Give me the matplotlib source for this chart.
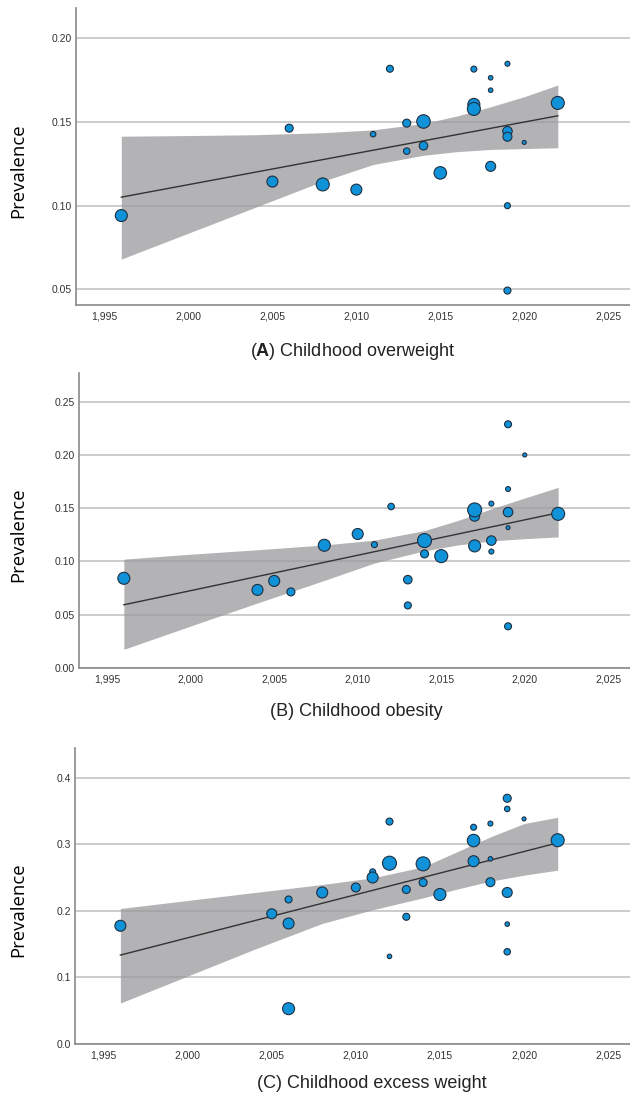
import numpy as np
import matplotlib
matplotlib.use("Agg")
import matplotlib.pyplot as plt

# (A) childhood overweight
a_year = [1996, 2005, 2006, 2008, 2010, 2011, 2012, 2013, 2013, 2014, 2014, 2015,
          2017, 2017, 2017, 2018, 2018, 2018, 2019, 2019, 2019, 2019, 2019, 2020, 2022]
a_prev = [0.094, 0.1143, 0.1462, 0.1126, 0.1095, 0.1426, 0.1817, 0.1492, 0.1325, 0.1502, 0.1357, 0.1195,
          0.1815, 0.1604, 0.1577, 0.1763, 0.1689, 0.1234, 0.1847, 0.1444, 0.1411, 0.0999, 0.0492, 0.1377, 0.1613]
a_size = [12, 11, 8, 13, 11, 5.5, 7, 8, 6.5, 13.5, 8.5, 12.5,
          6, 12, 13, 4.5, 4.5, 10, 5, 9.5, 9, 6, 7, 4, 13]

# (B) childhood obesity
b_year = [1996, 2004, 2005, 2006, 2008, 2010, 2011, 2012, 2013, 2013, 2014, 2014, 2015,
          2017, 2017, 2017, 2018, 2018, 2018, 2019, 2019, 2019, 2019, 2019, 2020, 2022]
b_prev = [0.0842, 0.0733, 0.0817, 0.0714, 0.1152, 0.1258, 0.1158, 0.1516, 0.0829, 0.0587, 0.1196, 0.1071, 0.105,
          0.1425, 0.1484, 0.1146, 0.1543, 0.1196, 0.1093, 0.2288, 0.168, 0.1463, 0.1317, 0.0391, 0.200, 0.1447]
b_size = [12, 11, 11, 8, 12, 11, 6, 6.5, 8.5, 7, 14, 8, 13,
          10, 14, 12, 5, 9.5, 5, 7, 5, 9.5, 4, 7, 4, 13]

# (C) childhood excess weight
c_year = [1996, 2005, 2006, 2006, 2006, 2008, 2010, 2011, 2011, 2012, 2012, 2012, 2013, 2013,
          2014, 2014, 2015, 2017, 2017, 2017, 2018, 2018, 2018, 2019, 2019, 2019, 2019, 2019, 2020, 2022]
c_prev = [0.1775, 0.1955, 0.217, 0.181, 0.053, 0.2275, 0.235, 0.2585, 0.250, 0.2715, 0.334, 0.1315, 0.232, 0.191,
          0.2705, 0.2425, 0.2245, 0.3255, 0.3055, 0.2745, 0.331, 0.278, 0.243, 0.369, 0.353, 0.2275, 0.180, 0.1385, 0.338, 0.306]
c_size = [11, 10, 7, 11, 12, 11, 9, 6, 11, 14, 7, 4.5, 8, 7,
          14, 8, 12, 6, 12.5, 11, 5, 4.5, 9, 8, 5.5, 10, 4.5, 6.5, 4, 13]

# fit line ends and confidence band
fit_years = [1996, 2022]
a_fit = [0.105, 0.1536]
b_fit = [0.0593, 0.1457]
c_fit = [0.1335, 0.302]

band_years = [1996, 2000, 2004, 2008, 2011, 2014, 2016, 2018, 2020, 2022]
a_hi = [0.1414, 0.1418, 0.1423, 0.1435, 0.1452, 0.1490, 0.1535, 0.1590, 0.1650, 0.1720]
a_lo = [0.068, 0.0835, 0.099, 0.1145, 0.1245, 0.130, 0.1322, 0.1335, 0.134, 0.1345]
b_hi = [0.1022, 0.1068, 0.111, 0.1155, 0.1200, 0.129, 0.1385, 0.1494, 0.1596, 0.1696]
b_lo = [0.0175, 0.0394, 0.061, 0.0822, 0.0985, 0.1100, 0.1155, 0.1193, 0.1214, 0.123]
c_hi = [0.2035, 0.2155, 0.2275, 0.2395, 0.2495, 0.266, 0.2885, 0.311, 0.331, 0.3405]
c_lo = [0.0615, 0.102, 0.1425, 0.181, 0.2015, 0.2195, 0.2325, 0.2445, 0.2535, 0.261]

x_ticks = [1995, 2000, 2005, 2010, 2015, 2020, 2025]
a_yticks = [0.05, 0.10, 0.15, 0.20]
b_yticks = [0.00, 0.05, 0.10, 0.15, 0.20, 0.25]
c_yticks = [0.0, 0.1, 0.2, 0.3, 0.4]

plt.rcParams["font.family"] = ["Liberation Sans", "DejaVu Sans"]
plt.rcParams["mathtext.fontset"] = "custom"
plt.rcParams["mathtext.rm"] = "Liberation Sans"
plt.rcParams["mathtext.bf"] = "Liberation Sans:bold"

W, H = 630, 1095


def draw_panel(ax, years, prev, size, fit, lo, hi, yticks, ylim, yfmt):
    ax.set_xlim(1993.3, 2026.3)
    ax.set_ylim(*ylim)
    for t in yticks:
        ax.axhline(t, color="#c8c8c8", lw=1.3, zorder=0)
    ax.fill_between(band_years, lo, hi, color="#9a9a9c", alpha=0.75, lw=0, zorder=1)
    ax.plot(fit_years, fit, color="#333333", lw=1.0, zorder=2)
    ax.scatter(years, prev, s=(np.array(size) * 0.72) ** 2, c="#1092d8",
               edgecolors="#1d2f42", linewidths=0.8, zorder=3)

    ax.set_xticks(x_ticks)
    ax.set_xticklabels([f"{t:,}" for t in x_ticks])
    ax.set_yticks(yticks)
    ax.set_yticklabels([yfmt.format(t) for t in yticks])
    ax.tick_params(length=0, labelsize=7.5, labelcolor="#333333", pad=5)
    ax.tick_params(axis="y", pad=3)
    for s in ["top", "right"]:
        ax.spines[s].set_visible(False)
    for s in ["left", "bottom"]:
        ax.spines[s].set_color("#8a8a8a")
        ax.spines[s].set_linewidth(1.2)

    # y label sits at a fixed x in the figure, a bit below the axes middle
    ax.set_ylabel("Prevalence", family="Open Sans", fontsize=13.3)
    ax.yaxis.label.set_va("center")
    bb = ax.get_position()
    lx = (18 / W - bb.x0) / bb.width
    ly = 0.5 - 14 / (bb.height * H)
    ax.yaxis.set_label_coords(lx, ly)


fig = plt.figure(figsize=(6.3, 10.95), dpi=100)

ax_a = fig.add_axes([0.1206, 0.7215, 0.8794, 0.2712])
ax_b = fig.add_axes([0.125, 0.390, 0.875, 0.2694])
ax_c = fig.add_axes([0.119, 0.0466, 0.881, 0.2703])

draw_panel(ax_a, a_year, a_prev, a_size, a_fit, a_lo, a_hi, a_yticks, (0.0406, 0.218), "{:.2f}")
draw_panel(ax_b, b_year, b_prev, b_size, b_fit, b_lo, b_hi, b_yticks, (0.0, 0.277), "{:.2f}")
draw_panel(ax_c, c_year, c_prev, c_size, c_fit, c_lo, c_hi, c_yticks, (0.0, 0.4445), "{:.1f}")

fig.text(353 / W, 1 - 352 / H, r"($\mathbf{A}$) Childhood overweight", ha="center", va="center",
         fontsize=13, color="#222222")
fig.text(356 / W, 1 - 712 / H, "(B) Childhood obesity", ha="center", va="center",
         fontsize=13, color="#222222")
fig.text(372 / W, 1 - 1083 / H, "(C) Childhood excess weight", ha="center", va="center",
         fontsize=13, color="#222222")

fig.savefig("out.png", dpi=100)
